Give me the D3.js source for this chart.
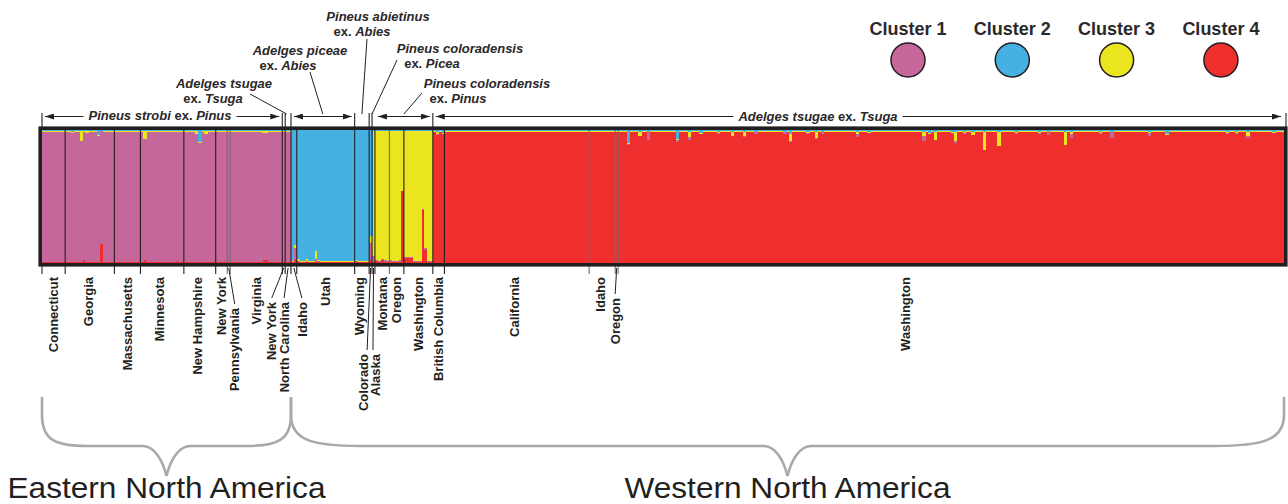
<!DOCTYPE html>
<html>
<head>
<meta charset="utf-8">
<script src="https://cdn.jsdelivr.net/npm/d3@7"></script>
<style>
  body { margin: 0; background: #fff; }
  svg { display: block; font-family: "Liberation Sans", Arial, Helvetica, sans-serif; }
</style>
</head>
<body>
<div id="chart"></div>
<script>
// ---- data ----
const clusterNames = ['Cluster 1', 'Cluster 2', 'Cluster 3', 'Cluster 4'];

const popNames = ['Connecticut', 'Georgia', 'Massachusetts', 'Minnesota', 'New Hampshire', 'New York',
  'Pennsylvania', 'Virginia', 'New York', 'North Carolina', 'Idaho', 'Utah', 'Wyoming', 'Colorado',
  'Alaska', 'Montana', 'Oregon', 'Washington', 'British Columbia', 'California', 'Idaho', 'Oregon',
  'Washington'];
const popSizes = [8, 17, 9, 15, 11, 4, 1, 18, 1, 2, 2, 20, 5, 1, 1, 5, 5, 10, 4, 50, 9, 1, 230];
const popCluster = [0, 0, 0, 0, 0, 0, 0, 0, 0, 0, 1, 1, 1, 1, 2, 2, 2, 2, 3, 3, 3, 3, 3];

// membership (q1..q4) of a typical individual, by its main cluster
const typicalMix = [
  [0.978, 0.006, 0.007, 0.009],
  [0.003, 0.987, 0.002, 0.008],
  [0.004, 0.008, 0.978, 0.010],
  [0.002, 0.008, 0.004, 0.986],
];

// individuals whose bars visibly differ: [sample index, q1, q2, q3, q4]
const outliers = [
  [10, 0.967, 0.015, 0.008, 0.010], [13, 0.905, 0.005, 0.080, 0.010], [14, 0.965, 0.007, 0.008, 0.020],
  [15, 0.965, 0.007, 0.018, 0.010], [19, 0.945, 0.040, 0.005, 0.010], [20, 0.850, 0.005, 0.005, 0.140],
  [23, 0.975, 0.005, 0.010, 0.010], [35, 0.915, 0.005, 0.060, 0.020], [46, 0.970, 0.005, 0.013, 0.012],
  [53, 0.957, 0.005, 0.028, 0.010], [54, 0.890, 0.090, 0.010, 0.010], [56, 0.957, 0.005, 0.028, 0.010],
  [76, 0.960, 0.005, 0.015, 0.020], [77, 0.960, 0.005, 0.015, 0.020],
  [87, 0.090, 0.865, 0.025, 0.020], [88, 0.005, 0.970, 0.015, 0.010], [91, 0.005, 0.972, 0.015, 0.008],
  [94, 0.025, 0.907, 0.060, 0.008], [95, 0.005, 0.977, 0.010, 0.008], [108, 0.005, 0.975, 0.012, 0.008],
  [113, 0.130, 0.800, 0.050, 0.020], [114, 0.040, 0.010, 0.940, 0.010],
  [115, 0.005, 0.010, 0.970, 0.015], [117, 0.005, 0.010, 0.960, 0.025], [118, 0.012, 0.010, 0.968, 0.010],
  [120, 0.015, 0.010, 0.965, 0.010], [123, 0.015, 0.010, 0.965, 0.010], [124, 0.005, 0.005, 0.450, 0.540],
  [125, 0.010, 0.010, 0.945, 0.035], [126, 0.010, 0.010, 0.945, 0.035], [127, 0.010, 0.010, 0.945, 0.035],
  [131, 0.005, 0.005, 0.590, 0.400], [132, 0.012, 0.010, 0.878, 0.100],
  [136, 0.003, 0.012, 0.020, 0.965], [138, 0.003, 0.020, 0.010, 0.967],
  [202, 0.005, 0.100, 0.005, 0.890], [206, 0.003, 0.012, 0.030, 0.955], [209, 0.060, 0.012, 0.005, 0.923],
  [219, 0.015, 0.070, 0.005, 0.910], [223, 0.020, 0.012, 0.040, 0.928], [227, 0.003, 0.022, 0.005, 0.970],
  [233, 0.003, 0.012, 0.012, 0.973], [238, 0.003, 0.012, 0.030, 0.955], [242, 0.003, 0.012, 0.035, 0.950],
  [246, 0.012, 0.012, 0.005, 0.971], [256, 0.012, 0.012, 0.005, 0.971], [258, 0.005, 0.030, 0.055, 0.910],
  [264, 0.003, 0.012, 0.012, 0.973], [267, 0.008, 0.012, 0.050, 0.930], [269, 0.012, 0.012, 0.005, 0.971],
  [281, 0.020, 0.012, 0.020, 0.948], [285, 0.003, 0.012, 0.010, 0.975], [304, 0.035, 0.012, 0.035, 0.918],
  [306, 0.003, 0.022, 0.005, 0.970], [308, 0.005, 0.012, 0.060, 0.923], [314, 0.003, 0.012, 0.012, 0.973],
  [315, 0.012, 0.012, 0.070, 0.906], [318, 0.003, 0.012, 0.012, 0.973], [321, 0.003, 0.012, 0.022, 0.963],
  [325, 0.003, 0.012, 0.135, 0.850], [330, 0.005, 0.012, 0.105, 0.878], [336, 0.003, 0.012, 0.012, 0.973],
  [344, 0.012, 0.015, 0.005, 0.968], [347, 0.022, 0.012, 0.005, 0.961], [353, 0.003, 0.012, 0.100, 0.885],
  [355, 0.030, 0.012, 0.020, 0.938], [365, 0.003, 0.012, 0.014, 0.971], [369, 0.040, 0.012, 0.005, 0.943],
  [382, 0.022, 0.012, 0.012, 0.954], [388, 0.003, 0.030, 0.008, 0.959], [409, 0.003, 0.012, 0.012, 0.973],
  [412, 0.003, 0.012, 0.012, 0.973], [416, 0.015, 0.012, 0.035, 0.938], [425, 0.003, 0.012, 0.010, 0.975],
];

const hostSpecies = ['Pineus strobi', 'Adelges tsugae', 'Adelges piceae', 'Pineus abietinus',
  'Pineus coloradensis', 'Pineus coloradensis', 'Adelges tsugae'];
const hostPlant = ['Pinus', 'Tsuga', 'Abies', 'Abies', 'Picea', 'Pinus', 'Tsuga'];
const hostPops = [[0, 7], [8, 9], [10, 11], [12, 12], [13, 14], [15, 17], [18, 22]];

const regionNames = ['Eastern North America', 'Western North America'];
const regionPops = [[0, 9], [10, 22]];

// ---- styles / layout ----
const colors = ['#c5679a', '#45b1e2', '#ebe51f', '#ee2f2e'];
const ink = '#231f20';
const size = { width: 1288, height: 504 };
const plot = { left: 42, right: 1284, top: 130, bottom: 263 };

const svg = d3.select('#chart').append('svg')
  .attr('width', size.width)
  .attr('height', size.height);

const defs = svg.append('defs');
defs.append('marker')
  .attr('id', 'arrow')
  .attr('viewBox', '0 0 9 6')
  .attr('refX', 9).attr('refY', 3)
  .attr('markerWidth', 9).attr('markerHeight', 6)
  .attr('markerUnits', 'userSpaceOnUse')
  .attr('orient', 'auto-start-reverse')
  .append('path').attr('d', 'M0,0L9,3L0,6Z').attr('fill', ink);

// build individuals
const individuals = [];
popSizes.forEach((n, p) => {
  for (let i = 0; i < n; i++) {
    individuals.push({ id: individuals.length, pop: p, q: typicalMix[popCluster[p]] });
  }
});
outliers.forEach(([id, ...q]) => { individuals[id].q = q; });

const rows = individuals.map((d) => {
  const s = d3.sum(d.q);
  const row = { id: d.id };
  d.q.forEach((v, k) => { row['c' + k] = v / s; });
  return row;
});

// stacking order seen in the figure, bottom to top: cluster 4, 1, 3, 2
const series = d3.stack().keys(['c3', 'c0', 'c2', 'c1'])(rows);

const x = d3.scaleBand()
  .domain(rows.map((d) => d.id))
  .range([plot.left, plot.right]);

const y = d3.scaleLinear()
  .domain([0, 1])
  .range([plot.bottom, plot.top]);

const popStart = [0];
popSizes.forEach((n) => popStart.push(popStart[popStart.length - 1] + n));
const edge = (p) => (p >= popSizes.length ? plot.right : x(popStart[p]));
const popMid = (p) => (edge(p) + edge(p + 1)) / 2;

// bars
svg.append('g')
  .attr('shape-rendering', 'crispEdges')
  .selectAll('g')
  .data(series)
  .join('g')
  .attr('fill', (d) => colors[+d.key.slice(1)])
  .selectAll('rect')
  .data((d) => d)
  .join('rect')
  .attr('x', (d) => x(d.data.id))
  .attr('width', x.bandwidth() + 0.5)
  .attr('y', (d) => y(d[1]))
  .attr('height', (d) => y(d[0]) - y(d[1]));

// population separators (some drawn grey in the original)
const greySeps = [6, 7, 16, 20, 21, 22];
svg.append('g')
  .selectAll('line')
  .data(d3.range(0, popSizes.length))
  .join('line')
  .attr('x1', (p) => edge(p)).attr('x2', (p) => edge(p))
  .attr('y1', (p) => (p === 0 ? 265 : 127))
  .attr('y2', 274)
  .attr('stroke', (p) => (greySeps.includes(p) ? '#6d6e71' : ink))
  .attr('stroke-width', 1.1);

// host group ticks above the plot
const topTicks = [0, 8, 9, 10, 12, 13, 14, 18, 23];
svg.append('g')
  .selectAll('line')
  .data(topTicks)
  .join('line')
  .attr('x1', (p) => edge(p) + (p === 23 ? 2 : 0))
  .attr('x2', (p) => edge(p) + (p === 23 ? 2 : 0))
  .attr('y1', 113).attr('y2', 127)
  .attr('stroke', ink).attr('stroke-width', 1.1);

// frame
svg.append('rect')
  .attr('x', plot.left - 1.8).attr('y', plot.top - 1.8)
  .attr('width', plot.right - plot.left + 3.6)
  .attr('height', plot.bottom - plot.top + 3.6)
  .attr('fill', 'none')
  .attr('stroke', ink)
  .attr('stroke-width', 3.6);

// population labels
const labelShift = { 1: -1.5, 3: -3, 4: -2, 6: 6, 8: -12, 9: -4, 10: 8, 12: -3, 13: -7.5, 14: 1.5, 19: -2, 20: -2, 21: -1.5, 22: -46 };
const labelTop = { 6: 308, 8: 302, 9: 302, 10: 302, 13: 354, 14: 354, 21: 298 };
const leaderDx = { 13: 4, 14: -2 };
const popLabels = svg.append('g');
popNames.forEach((name, p) => {
  const lx = popMid(p) + (labelShift[p] || 0);
  const ly = labelTop[p] || 277;
  if (labelTop[p]) {
    popLabels.append('line')
      .attr('x1', popMid(p)).attr('y1', 268)
      .attr('x2', lx + (leaderDx[p] || 0)).attr('y2', ly - 4)
      .attr('stroke', ink).attr('stroke-width', 1);
  }
  popLabels.append('text')
    .attr('transform', `translate(${lx},${ly}) rotate(-90)`)
    .attr('text-anchor', 'end')
    .attr('dy', '0.36em')
    .attr('font-size', 13)
    .attr('font-weight', 'bold')
    .attr('fill', ink)
    .text(name);
});

// host annotations above the plot
const annotLayout = [
  { inline: true, x: 160, y: 120 },
  { x: [224, 213], y: [88, 103], from: [250, 94] },
  { x: [300, 288], y: [55, 70], from: [310, 72] },
  { x: [378, 362], y: [21, 36], from: [367, 39] },
  { x: [460, 432], y: [53, 68], from: [397, 60] },
  { x: [487, 458], y: [88, 103], from: [422, 93] },
  { inline: true, x: 818, y: 121 },
];
const arrowGroups = [0, 2, 5, 6];
const arrowY = 116.5;
const annot = svg.append('g').attr('fill', '#2b2829').attr('font-size', 13).attr('font-weight', 'bold');

const writeParts = (t, parts) => {
  parts.forEach(([s, it]) => {
    t.append('tspan').attr('font-style', it ? 'italic' : 'normal').text(s);
  });
};

hostSpecies.forEach((sp, i) => {
  const lay = annotLayout[i];
  const gx0 = edge(hostPops[i][0]) + 3;
  const gx1 = edge(hostPops[i][1] + 1) - 3;
  const gmid = (edge(hostPops[i][0]) + edge(hostPops[i][1] + 1)) / 2;
  if (lay.inline) {
    const t = annot.append('text').attr('x', lay.x).attr('y', lay.y).attr('text-anchor', 'middle');
    writeParts(t, [[sp, true], [' ex. ', false], [hostPlant[i], true]]);
    const w = t.node().getComputedTextLength();
    [[gx0, lay.x - w / 2 - 5], [lay.x + w / 2 + 5, gx1]].forEach(([a, b], k) => {
      const l = svg.append('line')
        .attr('x1', a).attr('x2', b).attr('y1', arrowY).attr('y2', arrowY)
        .attr('stroke', ink).attr('stroke-width', 1);
      if (k === 0) l.attr('marker-start', 'url(#arrow)');
      else l.attr('marker-end', 'url(#arrow)');
    });
  } else {
    const t1 = annot.append('text').attr('x', lay.x[0]).attr('y', lay.y[0]).attr('text-anchor', 'middle');
    writeParts(t1, [[sp, true]]);
    const t2 = annot.append('text').attr('x', lay.x[1]).attr('y', lay.y[1]).attr('text-anchor', 'middle');
    writeParts(t2, [['ex. ', false], [hostPlant[i], true]]);
    svg.append('line')
      .attr('x1', lay.from[0]).attr('y1', lay.from[1])
      .attr('x2', gmid).attr('y2', 114)
      .attr('stroke', ink).attr('stroke-width', 1);
    if (arrowGroups.includes(i)) {
      svg.append('line')
        .attr('x1', gx0).attr('x2', gx1).attr('y1', arrowY).attr('y2', arrowY)
        .attr('stroke', ink).attr('stroke-width', 1)
        .attr('marker-start', 'url(#arrow)')
        .attr('marker-end', 'url(#arrow)');
    }
  }
});

// legend
const legend = svg.append('g');
clusterNames.forEach((name, k) => {
  const cx = 908 + k * 104.3;
  legend.append('text')
    .attr('x', cx).attr('y', 35)
    .attr('text-anchor', 'middle')
    .attr('font-size', 18).attr('font-weight', 'bold')
    .attr('fill', '#2b2829')
    .text(name);
  legend.append('circle')
    .attr('cx', cx).attr('cy', 60).attr('r', 17)
    .attr('fill', colors[k])
    .attr('stroke', ink).attr('stroke-width', 1.5);
});

// region braces
const bracePath = (x0, x1, r) => {
  const tip = (x0 + x1) / 2;
  const top = 397, flat = 446, tipY = 476;
  return `M${x0},${top}L${x0},${top + 18}` +
    `C${x0},${flat - 6} ${x0 + r * 0.3},${flat} ${x0 + r},${flat}` +
    `L${tip - 24},${flat}C${tip - 12},${flat} ${tip - 4},${flat + 14} ${tip},${tipY}` +
    `C${tip + 4},${flat + 14} ${tip + 12},${flat} ${tip + 24},${flat}` +
    `L${x1 - r},${flat}C${x1 - r * 0.3},${flat} ${x1},${flat - 6} ${x1},${top + 18}L${x1},${top}`;
};
const regionTextWidth = [318, 326];
regionNames.forEach((name, i) => {
  const x0 = edge(regionPops[i][0]);
  const x1 = edge(regionPops[i][1] + 1);
  svg.append('path')
    .attr('d', bracePath(x0, x1, i === 0 ? 45 : 70))
    .attr('fill', 'none')
    .attr('stroke', '#a7a9ac')
    .attr('stroke-width', 2.6);
  svg.append('text')
    .attr('x', (x0 + x1) / 2).attr('y', 498)
    .attr('text-anchor', 'middle')
    .attr('font-size', 29.5)
    .attr('textLength', regionTextWidth[i])
    .attr('lengthAdjust', 'spacingAndGlyphs')
    .attr('fill', ink)
    .text(name);
});
</script>
</body>
</html>
